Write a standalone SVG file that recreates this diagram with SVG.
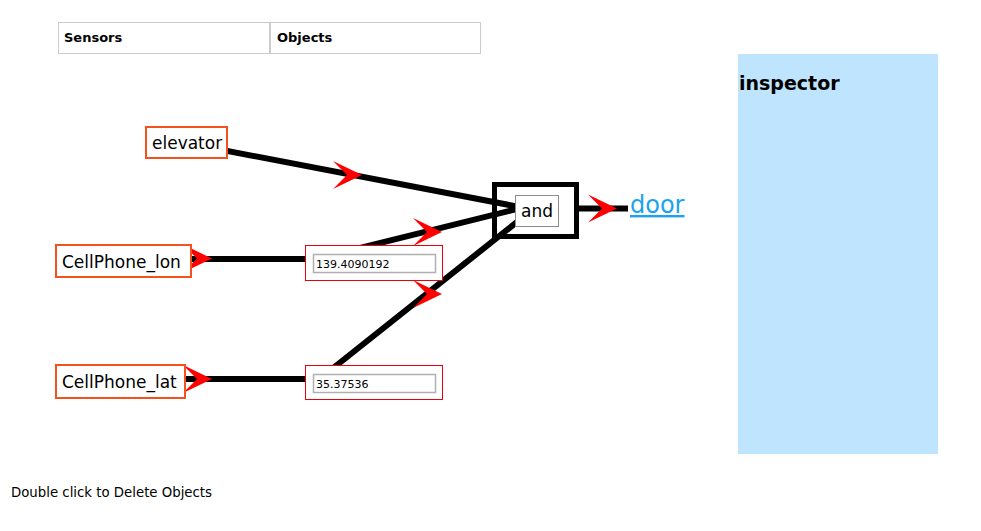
<svg xmlns="http://www.w3.org/2000/svg" xmlns:xlink="http://www.w3.org/1999/xlink" width="981" height="531" viewBox="0 0 981 531">
<style>
  text { font-family: "DejaVu Sans", Verdana, sans-serif; fill: #000; }
  .hdr { font-weight: bold; font-size: 13px; }
  .sensor rect { fill: #fff; stroke: #f4511e; stroke-width: 2; }
  .sensor text { font-size: 17px; }
  .input .outer { fill: #fff; stroke: #e8000b; stroke-width: 1; }
  .input .field { fill: #fff; stroke: #b0b0b0; stroke-width: 1.5; }
  .input text { font-size: 11px; }
  .wire { stroke: #000; stroke-width: 6; fill: none; }
  .arrow { fill: #ff0000; }
</style>
<defs>
  <polygon id="arr" points="0,0 -29,-14 -15,0 -29,14"/>
</defs>
<rect width="981" height="531" fill="#fff"/>

<g id="table">
  <rect x="58.5" y="22.5" width="422" height="31" fill="#fff" stroke="#cccccc" stroke-width="1"/>
  <line x1="270" y1="22.5" x2="270" y2="53.5" stroke="#cccccc" stroke-width="2"/>
  <text class="hdr" x="64" y="42">Sensors</text>
  <text class="hdr" x="277" y="42">Objects</text>
</g>

<g id="inspector">
  <rect x="738" y="54" width="200" height="400" fill="#bfe4fd"/>
  <text x="739" y="90" font-weight="bold" font-size="19">inspector</text>
</g>

<g id="connectors">
  <line class="wire" x1="186" y1="143" x2="530" y2="209"/>
  <line class="wire" x1="305" y1="261.6" x2="530" y2="205.8"/>
  <line class="wire" x1="320" y1="378.5" x2="530" y2="211.6"/>
  <line class="wire" x1="123" y1="259" x2="305" y2="259"/>
  <line class="wire" x1="120" y1="379" x2="305" y2="379"/>
  <line class="wire" x1="578" y1="208.5" x2="628" y2="208.5"/>
  <use xlink:href="#arr" class="arrow" x="362" y="175"/>
  <use xlink:href="#arr" class="arrow" x="442" y="232"/>
  <use xlink:href="#arr" class="arrow" x="442" y="294"/>
  <use xlink:href="#arr" class="arrow" x="212" y="258.5"/>
  <use xlink:href="#arr" class="arrow" x="212" y="379"/>
  <use xlink:href="#arr" class="arrow" x="617" y="208.5"/>
</g>

<g id="elevator" class="sensor">
  <rect x="146" y="127" width="81" height="31"/>
  <text x="152" y="149">elevator</text>
</g>

<g id="CellPhone_lon" class="sensor">
  <rect x="56" y="245" width="135" height="32"/>
  <text x="62" y="268">CellPhone_lon</text>
</g>

<g id="CellPhone_lat" class="sensor">
  <rect x="56" y="365" width="129" height="33"/>
  <text x="62" y="388">CellPhone_lat</text>
</g>

<g id="lon_value" class="input">
  <rect class="outer" x="305.5" y="245.5" width="137" height="35"/>
  <rect class="field" x="313.5" y="254.5" width="122" height="18"/>
  <text x="316" y="267.5">139.4090192</text>
</g>

<g id="lat_value" class="input">
  <rect class="outer" x="305.5" y="365.5" width="137" height="34"/>
  <rect class="field" x="313.5" y="374.5" width="122" height="18"/>
  <text x="316" y="387.5">35.37536</text>
</g>

<g id="and">
  <rect x="494.5" y="184.5" width="82" height="52" fill="none" stroke="#000" stroke-width="5"/>
  <rect x="515.5" y="195.5" width="43" height="31" fill="#fff" stroke="#8c8c8c" stroke-width="1"/>
  <text x="521" y="217" font-size="17">and</text>
</g>

<g id="door">
  <text x="630" y="213" font-size="24" style="fill:#1ba3ec" text-decoration="underline">door</text>
</g>

<text x="11" y="497" font-size="13.3">Double click to Delete Objects</text>
</svg>
